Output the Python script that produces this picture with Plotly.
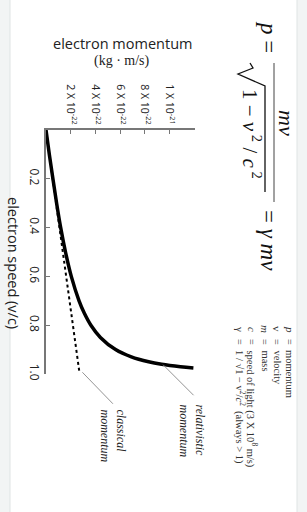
import plotly.graph_objects as go

# ---- data (momentum in units of 1e-22 kg·m/s, speed as v/c) ----
speed_rel = [0, 0.1, 0.2, 0.3, 0.4, 0.5, 0.6, 0.7, 0.75, 0.8, 0.85, 0.9, 0.93, 0.95, 0.96, 0.97, 0.975]
mom_rel = [0, 0.27, 0.56, 0.86, 1.19, 1.58, 2.05, 2.68, 3.10, 3.64, 4.41, 5.64, 6.92, 8.32, 9.37, 10.9, 11.95]
speed_cls = [0, 0.2, 0.4, 0.6, 0.8, 0.99]
mom_cls = [0, 0.55, 1.09, 1.64, 2.19, 2.7]

mom_tickvals = [2, 4, 6, 8, 10]
mom_ticktext = ["2 X 10<sup>-22</sup>", "4 X 10<sup>-22</sup>", "6 X 10<sup>-22</sup>",
                "8 X 10<sup>-22</sup>", "1 X 10<sup>-21</sup>"]
speed_tickvals = [0.2, 0.4, 0.6, 0.8, 1.0]
speed_ticktext = ["0.2", "0.4", "0.6", "0.8", "1.0"]

W, H = 307, 512
L, R, T, B = 46, 195, 130, 374


def px(x):
    return (x - L) / (R - L)


def py(y):
    return (B - y) / (B - T)


SERIF = "Liberation Serif"
SANS = "Open Sans"

fig = go.Figure()
fig.add_trace(go.Scatter(x=mom_cls, y=speed_cls, mode="lines",
                         line=dict(color="black", width=2, dash="dot"), hoverinfo="skip"))
fig.add_trace(go.Scatter(x=mom_rel, y=speed_rel, mode="lines", line_shape="spline",
                         line=dict(color="black", width=3.5), hoverinfo="skip"))

ann = []


def text(x, y, t, size, font=SERIF, angle=90, color="#111", xa="center", ya="middle", align="left"):
    ann.append(dict(x=px(x), y=py(y), xref="paper", yref="paper", text=t, showarrow=False,
                    textangle=angle, font=dict(family=font, size=size, color=color),
                    xanchor=xa, yanchor=ya, align=align))


# axis titles
text(122, 43, "electron momentum", 14.5, font=SANS, angle=0, color="#222")
text(122, 61, "(kg · m/s)", 14, font=SERIF, angle=0, color="#222")
text(14, 263, "electron speed (v/c)", 14.5, font=SANS, color="#222")

# main formula
text(269, 37, "<i>p</i> =", 23)
text(286, 123, "<i>mv</i>", 22)
text(252, 134, "1 − <i>v</i><sup> 2</sup><i> </i>/<i> c</i><sup> 2</sup>", 21)
text(269, 240, "= <i>γ mv</i>", 23)

# definitions
rows_x = [290, 277, 265, 252, 240]
syms = ["<i>p</i>", "v", "<i>m</i>", "<i>c</i>", "γ"]
defs = ["momentum", "velocity", "mass", "speed of light (3 X 10<sup>8</sup> m/s)",
        "1 / √1 − v<sup>2</sup>/<i>c</i><sup>2</sup>  (always > 1)"]
for xr, s, d in zip(rows_x, syms, defs):
    text(xr, 329, s, 11, color="#333")
    text(xr, 342, "=", 10, color="#333")
    text(xr, 348, d, 10.5, color="#333", ya="top")

# curve labels
text(191.5, 431, "<i>relativistic<br>momentum</i>", 12, color="#222")
text(112.5, 436, "<i>classical<br>momentum</i>", 12, color="#222")

# leader lines
ann.append(dict(x=9.49, y=0.962, xref="x", yref="y", ax=32, ay=32, text="", showarrow=True,
                arrowhead=0, arrowwidth=0.9, arrowcolor="#888", standoff=0))
ann.append(dict(x=2.95, y=0.993, xref="x", yref="y", ax=32, ay=33, text="", showarrow=True,
                arrowhead=0, arrowwidth=0.9, arrowcolor="#888", standoff=0))

shapes = [
    dict(type="rect", xref="paper", yref="paper", x0=px(10), x1=px(297), y0=py(515), y1=py(-3),
         fillcolor="white", line=dict(color="#dfe4e4", width=1), layer="below"),
    # fraction bar
    dict(type="line", xref="paper", yref="paper", x0=px(274), x1=px(274), y0=py(63), y1=py(202),
         line=dict(color="#444", width=1)),
    # radical sign
    dict(type="path", xref="paper", yref="paper",
         path="M {} {} L {} {} L {} {} L {} {} L {} {}".format(
             px(250), py(63), px(253), py(68), px(238), py(74), px(265), py(86), px(265), py(192)),
         line=dict(color="#111", width=1.3)),
]

fig.update_layout(
    width=W, height=H,
    margin=dict(l=L, r=W - R, t=T, b=H - B),
    paper_bgcolor="#f2f4f4", plot_bgcolor="rgba(0,0,0,0)",
    showlegend=False,
    annotations=ann, shapes=shapes,
    xaxis=dict(range=[0, 12.08], side="top", showgrid=False, zeroline=False,
               showline=True, linecolor="#777", linewidth=1.5,
               ticks="inside", ticklen=4, tickcolor="#777", tickwidth=1.3,
               tickvals=mom_tickvals, ticktext=mom_ticktext, tickangle=90,
               tickfont=dict(family=SANS, size=10.5, color="#222")),
    yaxis=dict(range=[1.0, 0], showgrid=False, zeroline=False,
               showline=True, linecolor="#777", linewidth=1.5,
               ticks="inside", ticklen=4, tickcolor="#777", tickwidth=1.3,
               tickvals=speed_tickvals, ticktext=speed_ticktext, tickangle=90,
               tickfont=dict(family=SANS, size=12, color="#222")),
)

fig.write_html("out.html")
